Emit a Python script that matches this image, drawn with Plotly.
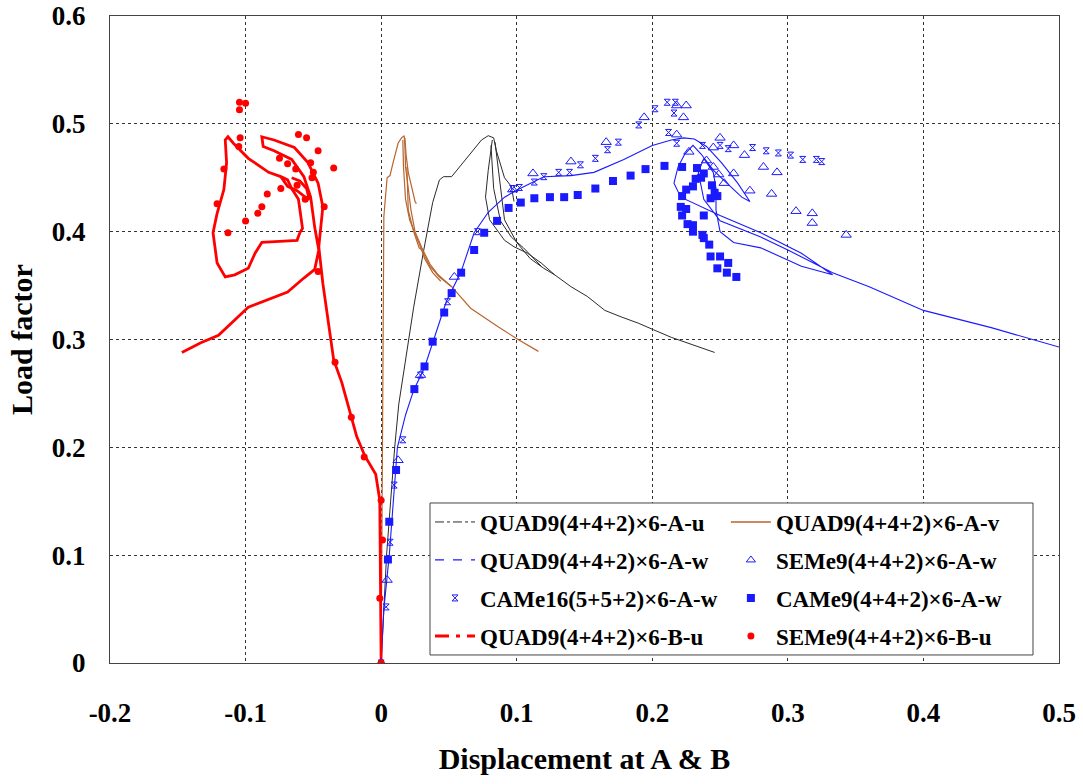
import plotly.graph_objects as go

N = None

# ---------------- data ----------------
# QUAD9(4+4+2)x6-A-u (black), segments separated by None
au_x = [0, 0.002, 0.004, 0.007, 0.010, 0.013, 0.017, 0.024, 0.031, 0.038, 0.043, 0.046, 0.052, 0.058, 0.064, 0.074, 0.079, 0.083, 0.085, 0.091, 0.096, 0.098, N,
        0.082, 0.079, 0.077, 0.080, 0.091, 0.098, 0.108, 0.118, 0.128, 0.140, 0.152, 0.165, 0.177, 0.190, 0.201, 0.214, 0.230, 0.246, N,
        0.084, 0.087, 0.091, 0.100, 0.110, 0.120, 0.128, N,
        0.081, 0.083, 0.088, 0.096, 0.105, 0.118]
au_y = [0, 0.05, 0.10, 0.15, 0.20, 0.24, 0.274, 0.33, 0.38, 0.427, 0.448, 0.451, 0.451, 0.46, 0.469, 0.485, 0.489, 0.487, 0.475, 0.45, 0.442, 0.428, N,
        0.485, 0.457, 0.432, 0.411, 0.392, 0.386, 0.38, 0.371, 0.36, 0.349, 0.34, 0.327, 0.321, 0.315, 0.309, 0.302, 0.295, 0.288, N,
        0.483, 0.45, 0.411, 0.39, 0.375, 0.366, 0.36, N,
        0.48, 0.44, 0.41, 0.395, 0.385, 0.368]

# QUAD9(4+4+2)x6-A-v (brown)
av_x = [0, 0.0005, 0.001, 0.0015, 0.0015, 0.002, 0.0044, 0.0065, 0.009, 0.0125, 0.015, 0.017, 0.0175, 0.018, 0.020, 0.022, 0.025, 0.030, 0.036, 0.042, 0.052, 0.066, 0.086, 0.101, 0.116, N,
        0.0175, 0.0185, 0.020, 0.023, 0.025, 0.026, N,
        0.016, 0.0165, 0.018, 0.021, 0.026, 0.031, 0.036, 0.043, 0.052, N,
        0.019, 0.020, 0.024, 0.028, 0.030, 0.032, 0.038, 0.044]
av_y = [0, 0.10, 0.20, 0.30, 0.367, 0.414, 0.45, 0.452, 0.465, 0.482, 0.487, 0.489, 0.48, 0.46, 0.44, 0.42, 0.40, 0.385, 0.37, 0.36, 0.349, 0.329, 0.312, 0.30, 0.289, N,
        0.487, 0.47, 0.455, 0.44, 0.428, 0.426, N,
        0.485, 0.46, 0.43, 0.411, 0.395, 0.38, 0.368, 0.358, 0.349, N,
        0.46, 0.42, 0.40, 0.385, 0.383, 0.375, 0.362, 0.354]

# QUAD9(4+4+2)x6-A-w (blue line)
aw_x = [0, 0.002, 0.006, 0.0103, 0.012, 0.018, 0.024, 0.032, 0.040, 0.048, 0.059, 0.0686, 0.079, 0.091, 0.101, 0.120, 0.140, 0.157, 0.179, 0.200, 0.214, 0.223, 0.231,
        0.240, 0.251, 0.263, 0.272, 0.266, 0.255, 0.245, 0.236, 0.230, 0.224, 0.219, 0.216, 0.221, 0.250, 0.280, 0.310, 0.333, 0.310, 0.280, 0.260, 0.250, 0.247,
        0.247, 0.245, 0.238, 0.234, 0.238, 0.250, 0.280, 0.300, 0.333, 0.360, 0.400, 0.450, 0.500]
aw_y = [0, 0.05, 0.10, 0.179, 0.20, 0.23, 0.253, 0.274, 0.305, 0.335, 0.363, 0.399, 0.418, 0.432, 0.439, 0.451, 0.452, 0.455, 0.467, 0.48, 0.485, 0.487, 0.486,
        0.479, 0.464, 0.445, 0.428, 0.432, 0.445, 0.457, 0.472, 0.48, 0.472, 0.46, 0.445, 0.432, 0.415, 0.399, 0.38, 0.36, 0.368, 0.385, 0.39, 0.40, 0.42,
        0.44, 0.455, 0.468, 0.455, 0.43, 0.41, 0.395, 0.383, 0.362, 0.349, 0.327, 0.311, 0.293]

# SEMe9(4+4+2)x6-A-w (open triangles)
sa_x = [0, 0.0044, 0.0125, 0.029, 0.054, 0.097, 0.112, 0.140, 0.166, 0.194, 0.218, 0.225, 0.223, 0.218, 0.227, 0.245, 0.250, 0.260, 0.268,
        0.240, 0.245, 0.249, 0.260, 0.253, 0.272, 0.282, 0.292, 0.288, 0.306, 0.318, 0.318, 0.343]
sa_y = [0, 0.077, 0.188, 0.267, 0.358, 0.439, 0.454, 0.465, 0.483, 0.506, 0.517, 0.517, 0.506, 0.49, 0.474, 0.478, 0.487, 0.48, 0.471,
        0.466, 0.46, 0.453, 0.454, 0.445, 0.438, 0.46, 0.455, 0.435, 0.419, 0.417, 0.408, 0.397]

# CAMe16(5+5+2)x6-A-w (asterisks)
c16_x = [0, 0.0037, 0.0066, 0.0096, 0.016, 0.029, 0.049, 0.071, 0.097, 0.102, 0.113, 0.120, 0.131, 0.139, 0.147, 0.158, 0.167, 0.175, 0.190, 0.202,
         0.211, 0.217, 0.216, 0.212, 0.218, 0.237, 0.250, 0.256, 0.274, 0.284, 0.293, 0.302, 0.311, 0.321, 0.325]
c16_y = [0, 0.052, 0.112, 0.165, 0.207, 0.267, 0.335, 0.40, 0.44, 0.441, 0.446, 0.451, 0.455, 0.455, 0.462, 0.468, 0.476, 0.483, 0.499, 0.514,
         0.52, 0.52, 0.51, 0.492, 0.482, 0.48, 0.48, 0.477, 0.478, 0.475, 0.473, 0.471, 0.467, 0.467, 0.465]

# CAMe9(4+4+2)x6-A-w (filled squares)
c9_x = [0.005, 0.006, 0.011, 0.0245, 0.032, 0.038, 0.0465, 0.052, 0.059, 0.0686, 0.076, 0.0855, 0.094, 0.103, 0.113, 0.1245, 0.135, 0.145, 0.158, 0.171,
        0.184, 0.195, 0.209, 0.222, 0.233, 0.238, 0.236, 0.232, 0.230, 0.225, 0.222, 0.221, 0.225, 0.222, 0.226, 0.230, 0.230, 0.237, 0.238, 0.242,
        0.243, 0.250, 0.256, 0.248, 0.255, 0.262, 0.238, 0.244, 0.246, 0.243, 0.248]
c9_y = [0.096, 0.131, 0.179, 0.254, 0.275, 0.298, 0.325, 0.343, 0.362, 0.383, 0.399, 0.41, 0.422, 0.427, 0.431, 0.432, 0.432, 0.434, 0.44, 0.447,
        0.452, 0.458, 0.461, 0.46, 0.459, 0.454, 0.45, 0.449, 0.442, 0.439, 0.433, 0.423, 0.421, 0.415, 0.407, 0.406, 0.40, 0.397, 0.394, 0.388,
        0.377, 0.377, 0.371, 0.366, 0.362, 0.358, 0.415, 0.443, 0.436, 0.431, 0.433]

# QUAD9(4+4+2)x6-B-u (red line)
bu_x = [0, -0.0005, -0.001, -0.001, -0.004, -0.012, -0.018, -0.022, -0.029, -0.035, -0.039, -0.043, -0.046, -0.044, -0.043, -0.0465, -0.054, -0.064, -0.079, -0.088,
        -0.087, -0.079, -0.066, -0.057, -0.052, -0.049, -0.046, -0.049, -0.057, -0.069, -0.083, -0.098, -0.108, -0.120, -0.133, -0.147, N,
        -0.060, -0.062, -0.075, -0.088, -0.093, -0.098, -0.108, -0.115, -0.121, -0.124, -0.121, -0.116, -0.114, -0.115, -0.113, -0.109, -0.098, -0.083, -0.074, -0.069,
        -0.066, -0.061, -0.058, -0.060, N,
        -0.074, -0.069, -0.062, -0.056, -0.053, -0.055, -0.060, -0.066]
bu_y = [0, 0.05, 0.10, 0.151, 0.175, 0.192, 0.21, 0.228, 0.26, 0.281, 0.315, 0.352, 0.386, 0.41, 0.423, 0.445, 0.464, 0.478, 0.485, 0.488,
        0.479, 0.475, 0.467, 0.451, 0.432, 0.404, 0.383, 0.365, 0.357, 0.344, 0.337, 0.33, 0.318, 0.304, 0.297, 0.288, N,
        0.399, 0.392, 0.391, 0.39, 0.38, 0.366, 0.36, 0.358, 0.371, 0.399, 0.417, 0.439, 0.464, 0.485, 0.488, 0.482, 0.468, 0.455, 0.451, 0.448,
        0.44, 0.43, 0.403, 0.399, N,
        0.451, 0.442, 0.438, 0.432, 0.43, 0.44, 0.447, 0.45]

# SEMe9(4+4+2)x6-B-u (red dots)
sb_x = [0, -0.001, 0.001, 0, -0.0125, -0.022, -0.034, -0.0465, -0.1045, -0.100, -0.1045, -0.104, -0.105, -0.116, -0.121, -0.113, -0.100, -0.091, -0.088, -0.084,
        -0.075, -0.074, -0.069, -0.063, -0.061, -0.055, -0.0465, -0.052, -0.050, -0.051, -0.062, -0.056, -0.035, -0.042]
sb_y = [0, 0.06, 0.114, 0.151, 0.191, 0.228, 0.279, 0.363, 0.52, 0.519, 0.513, 0.487, 0.479, 0.458, 0.426, 0.399, 0.41, 0.417, 0.423, 0.435,
        0.468, 0.44, 0.463, 0.458, 0.49, 0.487, 0.475, 0.464, 0.455, 0.45, 0.443, 0.43, 0.459, 0.423]

legend_names = ["QUAD9(4+4+2)×6-A-u", "QUAD9(4+4+2)×6-A-v",
                "QUAD9(4+4+2)×6-A-w", "SEMe9(4+4+2)×6-A-w",
                "CAMe16(5+5+2)×6-A-w", "CAMe9(4+4+2)×6-A-w",
                "QUAD9(4+4+2)×6-B-u", "SEMe9(4+4+2)×6-B-u"]

x_ticks = [-0.2, -0.1, 0, 0.1, 0.2, 0.3, 0.4, 0.5]
x_tick_text = ["-0.2", "-0.1", "0", "0.1", "0.2", "0.3", "0.4", "0.5"]
y_ticks = [0, 0.1, 0.2, 0.3, 0.4, 0.5, 0.6]
y_tick_text = ["0", "0.1", "0.2", "0.3", "0.4", "0.5", "0.6"]

# ---------------- styles ----------------
BLACK = "#2a2a2a"
BROWN = "#B8652F"
BLUE = "#1a1aff"
RED = "#ff0000"
FONT = "Liberation Serif"

fig = go.Figure()

fig.add_trace(go.Scatter(x=au_x, y=au_y, mode="lines", line=dict(color=BLACK, width=1), showlegend=False, connectgaps=False))
fig.add_trace(go.Scatter(x=av_x, y=av_y, mode="lines", line=dict(color=BROWN, width=1.2), showlegend=False, connectgaps=False))
fig.add_trace(go.Scatter(x=aw_x, y=aw_y, mode="lines", line=dict(color=BLUE, width=1.1), showlegend=False))
fig.add_trace(go.Scatter(x=bu_x, y=bu_y, mode="lines", line=dict(color=RED, width=2.8), showlegend=False, connectgaps=False))
fig.add_trace(go.Scatter(x=sa_x, y=sa_y, mode="markers", showlegend=False,
                         marker=dict(symbol="triangle-up-open", size=9, color=BLUE, line=dict(width=1, color=BLUE))))
fig.add_trace(go.Scatter(x=c16_x, y=c16_y, mode="markers", showlegend=False,
                         marker=dict(symbol="hourglass-open", size=6, color=BLUE, line=dict(width=1, color=BLUE))))
fig.add_trace(go.Scatter(x=c9_x, y=c9_y, mode="markers", showlegend=False,
                         marker=dict(symbol="square", size=8, color=BLUE)))
fig.add_trace(go.Scatter(x=sb_x, y=sb_y, mode="markers", showlegend=False,
                         marker=dict(symbol="circle", size=7, color=RED)))

# legend entries: one legend per entry so that rows/columns sit where the reference has them
leg_styles = [
    dict(mode="lines", line=dict(color=BLACK, width=1, dash="dashdot")),
    dict(mode="lines", line=dict(color=BROWN, width=1.5)),
    dict(mode="lines", line=dict(color=BLUE, width=1.2, dash="dash")),
    dict(mode="markers", marker=dict(symbol="triangle-up-open", size=8, color=BLUE, line=dict(width=1, color=BLUE))),
    dict(mode="markers", marker=dict(symbol="hourglass-open", size=6, color=BLUE, line=dict(width=1, color=BLUE))),
    dict(mode="markers", marker=dict(symbol="square", size=8, color=BLUE)),
    dict(mode="lines", line=dict(color=RED, width=3, dash="14px,7px,4px,7px")),
    dict(mode="markers", marker=dict(symbol="circle", size=7, color=RED)),
]
col_x = [0.3372, 0.6490]
row_y = [0.2179, 0.1592, 0.1005, 0.0417]
legend_layouts = {}
for i, (name, st) in enumerate(zip(legend_names, leg_styles)):
    key = "legend" if i == 0 else f"legend{i + 1}"
    fig.add_trace(go.Scatter(x=[None], y=[None], name=name, showlegend=True, legend=key, **st))
    legend_layouts[key] = dict(
        x=col_x[i % 2], y=row_y[i // 2], xanchor="left", yanchor="middle",
        bgcolor="rgba(0,0,0,0)", borderwidth=0,
        font=dict(family=FONT, size=23, color="black", weight="bold"),
        itemwidth=40,
    )

axis_common = dict(
    showline=True, mirror=True, linecolor="#444", linewidth=1,
    showgrid=True, gridcolor="#333", gridwidth=1, griddash="3px,3px",
    zeroline=False, ticks="", automargin=False, ticklabeloverflow="allow",
    tickfont=dict(family=FONT, size=27, color="black", weight="bold"),
)

fig.update_layout(
    width=1083, height=784,
    margin=dict(l=110, r=24, t=16, b=121, autoexpand=False),
    paper_bgcolor="white", plot_bgcolor="white",
    xaxis=dict(range=[-0.2, 0.5], tickvals=x_ticks, ticktext=x_tick_text, ticklabelstandoff=26,
               title=dict(text="Displacement at A & B", standoff=20,
                          font=dict(family=FONT, size=30, color="black", weight="bold")),
               **axis_common),
    yaxis=dict(range=[0, 0.6], tickvals=y_ticks, ticktext=y_tick_text, ticklabelstandoff=18,
               title=dict(text="Load factor", standoff=10,
                          font=dict(family=FONT, size=30, color="black", weight="bold")),
               **axis_common),
    shapes=[dict(type="rect", xref="paper", yref="paper", x0=0.3372, x1=0.9726, y0=0.0124, y1=0.2473,
                 fillcolor="white", line=dict(color="#444", width=1), layer="above")],
    showlegend=True,
    **legend_layouts,
)

# remove the browser's default 8px page margin so the figure sits at the window origin
fig.write_html("out.html", config={"displayModeBar": False},
               post_script="document.body.style.margin='0px';")
